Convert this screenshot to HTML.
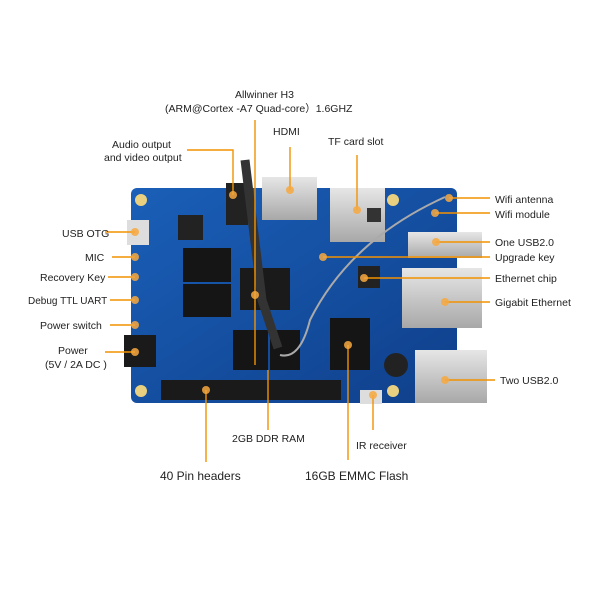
<!DOCTYPE html><html><head><style>body{margin:0;background:#fff}svg{display:block}text{font-family:"Liberation Sans",sans-serif;font-size:10.5px;fill:#222}</style></head><body>
<svg width="600" height="600" viewBox="0 0 600 600">
<defs><linearGradient id="b" x1="0" y1="0" x2="1" y2="1"><stop offset="0" stop-color="#1a5fb8"/><stop offset="1" stop-color="#0f3f8a"/></linearGradient>
<linearGradient id="m" x1="0" y1="0" x2="0" y2="1"><stop offset="0" stop-color="#e6e6e6"/><stop offset="1" stop-color="#a8a8a8"/></linearGradient></defs>
<rect x="131" y="188" width="326" height="215" rx="6" fill="url(#b)"/>
<circle cx="141" cy="200" r="6" fill="#e8d080"/><circle cx="393" cy="200" r="6" fill="#e8d080"/><circle cx="141" cy="391" r="6" fill="#e8d080"/><circle cx="393" cy="391" r="6" fill="#e8d080"/>
<rect x="262" y="177" width="55" height="43" fill="url(#m)"/>
<rect x="330" y="188" width="55" height="54" fill="url(#m)"/>
<rect x="226" y="183" width="22" height="42" fill="#222"/>
<rect x="127" y="220" width="22" height="25" fill="#ddd"/>
<rect x="124" y="335" width="32" height="32" fill="#1a1a1a"/>
<rect x="408" y="232" width="74" height="26" fill="url(#m)"/>
<rect x="402" y="268" width="80" height="60" fill="url(#m)"/>
<rect x="415" y="350" width="72" height="53" fill="url(#m)"/>
<rect x="183" y="248" width="48" height="34" fill="#151515"/>
<rect x="183" y="284" width="48" height="33" fill="#151515"/>
<rect x="240" y="268" width="50" height="42" fill="#1a1a1a"/>
<rect x="233" y="330" width="35" height="40" fill="#151515"/><rect x="270" y="330" width="30" height="40" fill="#151515"/>
<rect x="330" y="318" width="40" height="52" fill="#151515"/>
<rect x="178" y="215" width="25" height="25" fill="#222"/>
<rect x="367" y="208" width="14" height="14" fill="#333"/>
<rect x="358" y="266" width="22" height="22" fill="#222"/>
<circle cx="396" cy="365" r="12" fill="#222"/>
<rect x="360" y="390" width="22" height="14" fill="#ddd"/>
<rect x="161" y="380" width="180" height="20" fill="#1a1a1a"/>
<path d="M245 160 L262 300 L278 348" stroke="#333" stroke-width="9" fill="none"/>
<path d="M280 355 Q300 360 310 320 Q350 240 445 197" stroke="#aaa" stroke-width="2" fill="none"/>
<g stroke="#f39200" stroke-width="1.4" fill="none">
<path d="M255 120 V365"/><path d="M187 150 H233 V195"/><path d="M290 147 V190"/><path d="M357 155 V210"/>
<path d="M449 198 H490"/><path d="M435 213 H490"/><path d="M436 242 H490"/><path d="M323 257 H490"/>
<path d="M364 278 H490"/><path d="M445 302 H490"/><path d="M445 380 H495"/>
<path d="M105 232 H135"/><path d="M112 257 H135"/><path d="M108 277 H135"/><path d="M110 300 H135"/><path d="M110 325 H135"/><path d="M105 352 H135"/>
<path d="M268 370 V430"/><path d="M348 345 V460"/><path d="M373 395 V430"/><path d="M206 390 V462"/>
</g>
<g fill="#f7a940" opacity="0.85">
<circle cx="233" cy="195" r="4"/><circle cx="290" cy="190" r="4"/><circle cx="357" cy="210" r="4"/><circle cx="255" cy="295" r="4"/>
<circle cx="449" cy="198" r="4"/><circle cx="435" cy="213" r="4"/><circle cx="436" cy="242" r="4"/><circle cx="323" cy="257" r="4"/>
<circle cx="364" cy="278" r="4"/><circle cx="445" cy="302" r="4"/><circle cx="445" cy="380" r="4"/>
<circle cx="135" cy="232" r="4"/><circle cx="135" cy="257" r="4"/><circle cx="135" cy="277" r="4"/><circle cx="135" cy="300" r="4"/><circle cx="135" cy="325" r="4"/><circle cx="135" cy="352" r="4"/>
<circle cx="348" cy="345" r="4"/><circle cx="373" cy="395" r="4"/><circle cx="206" cy="390" r="4"/>
</g>
<text x="235" y="98">Allwinner H3</text>
<text x="165" y="112">(ARM@Cortex  -A7 Quad-core）1.6GHZ</text>
<text x="112" y="148">Audio output</text><text x="104" y="161">and video output</text>
<text x="273" y="135">HDMI</text><text x="328" y="145">TF card slot</text>
<text x="495" y="203">Wifi antenna</text><text x="495" y="218">Wifi module</text>
<text x="495" y="246">One USB2.0</text><text x="495" y="261">Upgrade key</text>
<text x="495" y="282">Ethernet chip</text><text x="495" y="306">Gigabit Ethernet</text>
<text x="500" y="384">Two USB2.0</text>
<text x="62" y="237">USB OTG</text><text x="85" y="261">MIC</text><text x="40" y="281">Recovery Key</text>
<text x="28" y="304" style="font-size:10px">Debug TTL UART</text><text x="40" y="329">Power switch</text>
<text x="58" y="354">Power</text><text x="45" y="368">(5V / 2A DC )</text>
<text x="232" y="442">2GB DDR RAM</text><text x="356" y="449">IR receiver</text>
<text x="160" y="480" style="font-size:12px">40 Pin headers</text><text x="305" y="480" style="font-size:12px">16GB EMMC Flash</text>
</svg></body></html>
